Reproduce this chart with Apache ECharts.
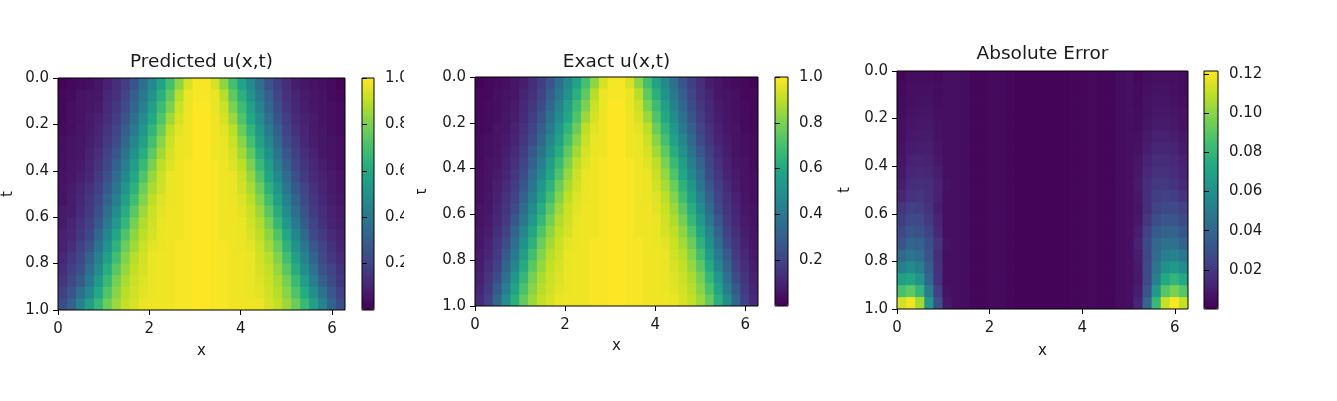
<!DOCTYPE html>
<html><head><meta charset="utf-8">
<script src="https://cdn.jsdelivr.net/npm/echarts@6/dist/echarts.min.js"></script>
<style>html,body{margin:0;padding:0;background:#fff}#c{width:1337px;height:401px}</style>
</head><body><div id="c"></div>
<script>
// x cell centres (0..2π, 32 cells) and t cell centres (0..1, 20 cells)
const xCategories = ['0.10','0.29','0.49','0.69','0.88','1.08','1.28','1.47','1.67','1.87','2.06','2.26','2.45','2.65','2.85','3.04','3.24','3.44','3.63','3.83','4.02','4.22','4.42','4.61','4.81','5.01','5.20','5.40','5.60','5.79','5.99','6.19'];
const tCategories = ['0.025','0.075','0.125','0.175','0.225','0.275','0.325','0.375','0.425','0.475','0.525','0.575','0.625','0.675','0.725','0.775','0.825','0.875','0.925','0.975'];
const xTicks = [0, 2, 4, 6];
const tTicks = [0, 0.2, 0.4, 0.6, 0.8, 1.0];
const uBarTicks = [0.2, 0.4, 0.6, 0.8, 1.0];
const errBarTicks = [0.02, 0.04, 0.06, 0.08, 0.10, 0.12];
const panelTitles = ['Predicted u(x,t)', 'Exact u(x,t)', 'Absolute Error'];

const predictedRows = [
[0.01,0.02,0.03,0.04,0.06,0.09,0.13,0.18,0.26,0.36,0.47,0.58,0.70,0.83,0.94,0.99,0.99,0.94,0.83,0.70,0.58,0.47,0.36,0.26,0.18,0.13,0.08,0.06,0.05,0.04,0.03,0.01],
[0.02,0.03,0.05,0.06,0.06,0.11,0.14,0.20,0.30,0.40,0.51,0.63,0.75,0.89,0.97,0.99,0.99,0.97,0.89,0.75,0.63,0.51,0.40,0.30,0.20,0.14,0.10,0.07,0.06,0.05,0.03,0.02],
[0.02,0.04,0.05,0.06,0.07,0.12,0.16,0.23,0.33,0.44,0.56,0.68,0.80,0.92,0.97,1.00,1.00,0.97,0.92,0.80,0.68,0.56,0.44,0.33,0.23,0.16,0.11,0.08,0.06,0.05,0.04,0.03],
[0.02,0.04,0.05,0.07,0.09,0.13,0.18,0.26,0.37,0.48,0.60,0.72,0.85,0.94,0.98,1.00,1.00,0.98,0.94,0.85,0.72,0.60,0.48,0.37,0.26,0.18,0.12,0.09,0.07,0.05,0.04,0.03],
[0.03,0.04,0.06,0.07,0.10,0.15,0.20,0.30,0.41,0.53,0.65,0.77,0.90,0.96,0.98,1.00,1.00,0.98,0.96,0.90,0.77,0.65,0.53,0.41,0.30,0.20,0.14,0.10,0.07,0.06,0.04,0.03],
[0.04,0.05,0.06,0.08,0.11,0.17,0.23,0.34,0.46,0.57,0.70,0.82,0.92,0.97,0.98,1.00,1.00,0.98,0.97,0.92,0.82,0.70,0.57,0.46,0.34,0.23,0.17,0.11,0.08,0.06,0.05,0.04],
[0.04,0.05,0.06,0.09,0.13,0.19,0.27,0.38,0.50,0.62,0.75,0.86,0.94,0.97,0.98,1.00,1.00,0.98,0.97,0.94,0.86,0.75,0.62,0.50,0.38,0.27,0.19,0.13,0.09,0.06,0.05,0.04],
[0.04,0.06,0.07,0.10,0.15,0.21,0.31,0.42,0.55,0.67,0.80,0.90,0.95,0.98,0.99,1.00,1.00,0.99,0.98,0.95,0.90,0.80,0.67,0.55,0.42,0.31,0.21,0.15,0.11,0.08,0.06,0.04],
[0.05,0.06,0.08,0.11,0.17,0.24,0.35,0.47,0.59,0.72,0.84,0.92,0.97,0.98,0.99,1.00,1.00,0.99,0.98,0.97,0.92,0.84,0.72,0.59,0.47,0.35,0.24,0.17,0.12,0.09,0.07,0.05],
[0.05,0.07,0.10,0.14,0.19,0.28,0.39,0.52,0.64,0.77,0.87,0.93,0.97,0.98,0.99,1.00,1.00,0.99,0.98,0.97,0.93,0.87,0.77,0.64,0.52,0.39,0.28,0.20,0.14,0.10,0.07,0.05],
[0.05,0.08,0.11,0.16,0.21,0.32,0.43,0.56,0.69,0.81,0.90,0.95,0.97,0.98,0.99,1.00,1.00,0.99,0.98,0.97,0.95,0.90,0.81,0.69,0.56,0.43,0.32,0.22,0.16,0.11,0.08,0.06],
[0.07,0.08,0.12,0.17,0.24,0.36,0.48,0.62,0.74,0.85,0.92,0.96,0.98,0.98,0.99,1.00,1.00,0.99,0.98,0.98,0.96,0.92,0.85,0.74,0.62,0.48,0.36,0.25,0.17,0.13,0.09,0.07],
[0.07,0.10,0.14,0.19,0.28,0.41,0.53,0.66,0.79,0.88,0.93,0.97,0.98,0.98,0.99,1.00,1.00,0.99,0.98,0.98,0.97,0.93,0.88,0.79,0.66,0.53,0.41,0.29,0.20,0.14,0.10,0.08],
[0.09,0.11,0.16,0.21,0.33,0.46,0.59,0.72,0.83,0.90,0.94,0.97,0.98,0.98,0.99,1.00,1.00,0.99,0.98,0.98,0.97,0.94,0.90,0.83,0.72,0.59,0.46,0.34,0.22,0.17,0.12,0.09],
[0.09,0.13,0.19,0.26,0.38,0.51,0.64,0.77,0.86,0.92,0.96,0.97,0.98,0.99,0.99,1.00,1.00,0.99,0.99,0.98,0.97,0.96,0.92,0.86,0.77,0.64,0.51,0.39,0.27,0.20,0.14,0.10],
[0.11,0.16,0.21,0.31,0.43,0.56,0.69,0.81,0.89,0.93,0.97,0.98,0.98,0.99,0.99,1.00,1.00,0.99,0.99,0.98,0.98,0.97,0.93,0.89,0.81,0.69,0.56,0.44,0.32,0.22,0.16,0.12],
[0.13,0.19,0.24,0.36,0.48,0.62,0.74,0.84,0.91,0.94,0.97,0.98,0.98,0.99,0.99,1.00,1.00,0.99,0.99,0.98,0.98,0.97,0.94,0.91,0.84,0.74,0.62,0.49,0.37,0.25,0.20,0.14],
[0.16,0.22,0.29,0.41,0.54,0.67,0.79,0.87,0.92,0.95,0.97,0.98,0.98,0.99,0.99,1.00,1.00,0.99,0.99,0.98,0.98,0.97,0.95,0.92,0.87,0.79,0.67,0.55,0.42,0.30,0.23,0.16],
[0.19,0.26,0.36,0.47,0.60,0.72,0.82,0.89,0.93,0.96,0.97,0.98,0.98,0.99,0.99,1.00,1.00,0.99,0.99,0.98,0.98,0.97,0.96,0.93,0.89,0.82,0.72,0.61,0.49,0.37,0.27,0.19],
[0.23,0.31,0.44,0.55,0.66,0.77,0.85,0.91,0.94,0.97,0.98,0.98,0.98,0.99,0.99,1.00,1.00,0.99,0.99,0.98,0.98,0.98,0.97,0.94,0.91,0.85,0.77,0.67,0.56,0.44,0.31,0.23]
];

const exactRows = [
[0.01,0.02,0.03,0.04,0.06,0.08,0.13,0.18,0.26,0.36,0.47,0.58,0.70,0.83,0.94,0.99,0.99,0.94,0.83,0.70,0.58,0.47,0.36,0.26,0.18,0.13,0.08,0.06,0.04,0.03,0.02,0.01],
[0.02,0.02,0.04,0.05,0.06,0.10,0.14,0.20,0.30,0.40,0.51,0.63,0.75,0.89,0.97,0.99,0.99,0.97,0.89,0.75,0.63,0.51,0.40,0.30,0.20,0.14,0.10,0.06,0.05,0.04,0.02,0.02],
[0.02,0.03,0.04,0.05,0.07,0.11,0.16,0.23,0.33,0.44,0.56,0.68,0.80,0.92,0.97,1.00,1.00,0.97,0.92,0.80,0.68,0.56,0.44,0.33,0.23,0.16,0.11,0.07,0.05,0.04,0.03,0.02],
[0.02,0.03,0.04,0.06,0.08,0.12,0.18,0.26,0.37,0.48,0.60,0.72,0.85,0.94,0.98,1.00,1.00,0.98,0.94,0.85,0.72,0.60,0.48,0.37,0.26,0.18,0.12,0.08,0.06,0.04,0.03,0.02],
[0.02,0.03,0.05,0.06,0.09,0.14,0.20,0.30,0.41,0.53,0.65,0.77,0.90,0.96,0.98,1.00,1.00,0.98,0.96,0.90,0.77,0.65,0.53,0.41,0.30,0.20,0.14,0.09,0.06,0.05,0.03,0.02],
[0.03,0.04,0.05,0.07,0.10,0.16,0.23,0.34,0.46,0.57,0.70,0.82,0.92,0.97,0.98,1.00,1.00,0.98,0.97,0.92,0.82,0.70,0.57,0.46,0.34,0.23,0.16,0.10,0.07,0.05,0.04,0.03],
[0.03,0.04,0.05,0.08,0.12,0.18,0.27,0.38,0.50,0.62,0.75,0.86,0.94,0.97,0.98,1.00,1.00,0.98,0.97,0.94,0.86,0.75,0.62,0.50,0.38,0.27,0.18,0.12,0.08,0.05,0.04,0.03],
[0.03,0.05,0.06,0.09,0.14,0.20,0.31,0.42,0.55,0.67,0.80,0.90,0.95,0.98,0.99,1.00,1.00,0.99,0.98,0.95,0.90,0.80,0.67,0.55,0.42,0.31,0.20,0.14,0.09,0.06,0.05,0.03],
[0.04,0.05,0.07,0.10,0.16,0.23,0.35,0.47,0.59,0.72,0.84,0.92,0.97,0.98,0.99,1.00,1.00,0.99,0.98,0.97,0.92,0.84,0.72,0.59,0.47,0.35,0.23,0.16,0.10,0.07,0.05,0.04],
[0.04,0.05,0.08,0.12,0.18,0.27,0.39,0.52,0.64,0.77,0.87,0.93,0.97,0.98,0.99,1.00,1.00,0.99,0.98,0.97,0.93,0.87,0.77,0.64,0.52,0.39,0.27,0.18,0.12,0.08,0.05,0.04],
[0.04,0.06,0.09,0.14,0.20,0.31,0.43,0.56,0.69,0.81,0.90,0.95,0.97,0.98,0.99,1.00,1.00,0.99,0.98,0.97,0.95,0.90,0.81,0.69,0.56,0.43,0.31,0.20,0.14,0.09,0.06,0.04],
[0.05,0.06,0.10,0.15,0.23,0.35,0.48,0.62,0.74,0.85,0.92,0.96,0.98,0.98,0.99,1.00,1.00,0.99,0.98,0.98,0.96,0.92,0.85,0.74,0.62,0.48,0.35,0.23,0.15,0.10,0.06,0.05],
[0.05,0.07,0.11,0.17,0.27,0.40,0.53,0.66,0.79,0.88,0.93,0.97,0.98,0.98,0.99,1.00,1.00,0.99,0.98,0.98,0.97,0.93,0.88,0.79,0.66,0.53,0.40,0.27,0.17,0.11,0.07,0.05],
[0.06,0.08,0.13,0.19,0.32,0.45,0.59,0.72,0.83,0.90,0.94,0.97,0.98,0.98,0.99,1.00,1.00,0.99,0.98,0.98,0.97,0.94,0.90,0.83,0.72,0.59,0.45,0.32,0.19,0.13,0.08,0.06],
[0.06,0.09,0.15,0.23,0.36,0.50,0.64,0.77,0.86,0.92,0.96,0.97,0.98,0.99,0.99,1.00,1.00,0.99,0.99,0.98,0.97,0.96,0.92,0.86,0.77,0.64,0.50,0.36,0.23,0.15,0.09,0.06],
[0.07,0.11,0.17,0.28,0.41,0.55,0.69,0.81,0.89,0.93,0.97,0.98,0.98,0.99,0.99,1.00,1.00,0.99,0.99,0.98,0.98,0.97,0.93,0.89,0.81,0.69,0.55,0.41,0.28,0.17,0.11,0.07],
[0.08,0.13,0.19,0.32,0.46,0.61,0.74,0.84,0.91,0.94,0.97,0.98,0.98,0.99,0.99,1.00,1.00,0.99,0.99,0.98,0.98,0.97,0.94,0.91,0.84,0.74,0.61,0.46,0.32,0.19,0.13,0.08],
[0.09,0.15,0.23,0.37,0.52,0.66,0.79,0.87,0.92,0.95,0.97,0.98,0.98,0.99,0.99,1.00,1.00,0.99,0.99,0.98,0.98,0.97,0.95,0.92,0.87,0.79,0.66,0.52,0.37,0.23,0.15,0.09],
[0.10,0.17,0.28,0.42,0.58,0.71,0.82,0.89,0.93,0.96,0.97,0.98,0.98,0.99,0.99,1.00,1.00,0.99,0.99,0.98,0.98,0.97,0.96,0.93,0.89,0.82,0.71,0.58,0.42,0.28,0.17,0.10],
[0.12,0.19,0.33,0.48,0.63,0.76,0.85,0.91,0.94,0.97,0.98,0.98,0.98,0.99,0.99,1.00,1.00,0.99,0.99,0.98,0.98,0.98,0.97,0.94,0.91,0.85,0.76,0.63,0.48,0.33,0.19,0.12]
];

const errorRows = [
[0.002,0.004,0.004,0.004,0.003,0.005,0.005,0.004,0.002,0.002,0.003,0.003,0.002,0.001,0.001,0.001,0.001,0.001,0.001,0.002,0.002,0.003,0.002,0.002,0.004,0.005,0.002,0.004,0.005,0.005,0.005,0.004],
[0.003,0.005,0.005,0.005,0.004,0.005,0.005,0.004,0.002,0.002,0.003,0.003,0.002,0.001,0.001,0.001,0.001,0.001,0.001,0.002,0.002,0.003,0.002,0.002,0.004,0.005,0.003,0.005,0.006,0.006,0.005,0.004],
[0.004,0.005,0.006,0.006,0.004,0.005,0.005,0.004,0.002,0.002,0.003,0.003,0.002,0.001,0.001,0.001,0.001,0.001,0.001,0.002,0.002,0.003,0.002,0.002,0.004,0.005,0.003,0.006,0.007,0.007,0.006,0.005],
[0.004,0.006,0.007,0.007,0.005,0.005,0.005,0.004,0.002,0.002,0.003,0.003,0.002,0.001,0.001,0.001,0.001,0.001,0.001,0.002,0.002,0.003,0.002,0.002,0.004,0.005,0.004,0.006,0.008,0.008,0.007,0.006],
[0.005,0.007,0.008,0.008,0.006,0.005,0.005,0.004,0.002,0.002,0.003,0.003,0.002,0.001,0.001,0.001,0.001,0.001,0.001,0.002,0.002,0.003,0.002,0.002,0.004,0.005,0.004,0.007,0.009,0.009,0.008,0.006],
[0.005,0.008,0.009,0.009,0.006,0.005,0.005,0.004,0.002,0.002,0.003,0.003,0.002,0.001,0.001,0.001,0.001,0.001,0.001,0.002,0.002,0.003,0.002,0.002,0.004,0.005,0.005,0.009,0.011,0.011,0.010,0.008],
[0.006,0.009,0.010,0.010,0.007,0.005,0.005,0.004,0.002,0.002,0.003,0.003,0.002,0.001,0.001,0.001,0.001,0.001,0.001,0.002,0.002,0.003,0.002,0.002,0.004,0.005,0.006,0.010,0.013,0.013,0.012,0.009],
[0.007,0.011,0.012,0.011,0.008,0.005,0.005,0.004,0.002,0.002,0.003,0.003,0.002,0.001,0.001,0.001,0.001,0.001,0.001,0.002,0.002,0.003,0.002,0.002,0.004,0.005,0.007,0.012,0.015,0.015,0.014,0.011],
[0.008,0.013,0.014,0.013,0.010,0.005,0.005,0.004,0.002,0.002,0.003,0.003,0.002,0.001,0.001,0.001,0.001,0.001,0.001,0.002,0.002,0.003,0.002,0.002,0.004,0.005,0.008,0.014,0.017,0.017,0.015,0.012],
[0.010,0.015,0.016,0.015,0.011,0.006,0.005,0.004,0.002,0.002,0.003,0.003,0.002,0.001,0.001,0.001,0.001,0.001,0.001,0.002,0.002,0.003,0.002,0.002,0.004,0.005,0.009,0.016,0.020,0.020,0.018,0.014],
[0.013,0.018,0.019,0.016,0.011,0.005,0.005,0.004,0.002,0.002,0.003,0.003,0.002,0.001,0.001,0.001,0.001,0.001,0.001,0.002,0.002,0.003,0.002,0.002,0.004,0.005,0.008,0.016,0.022,0.023,0.022,0.018],
[0.018,0.023,0.022,0.017,0.010,0.005,0.005,0.004,0.002,0.002,0.003,0.003,0.002,0.001,0.001,0.001,0.001,0.001,0.001,0.002,0.002,0.003,0.002,0.002,0.004,0.005,0.007,0.016,0.024,0.027,0.027,0.023],
[0.022,0.027,0.026,0.020,0.012,0.005,0.005,0.004,0.002,0.002,0.003,0.003,0.002,0.001,0.001,0.001,0.001,0.001,0.001,0.002,0.002,0.003,0.002,0.002,0.004,0.005,0.008,0.019,0.029,0.032,0.032,0.027],
[0.026,0.032,0.030,0.024,0.014,0.005,0.005,0.004,0.002,0.002,0.003,0.003,0.002,0.001,0.001,0.001,0.001,0.001,0.001,0.002,0.002,0.003,0.002,0.002,0.004,0.005,0.010,0.023,0.034,0.038,0.038,0.032],
[0.031,0.039,0.037,0.029,0.018,0.006,0.005,0.004,0.002,0.002,0.003,0.003,0.002,0.001,0.001,0.001,0.001,0.001,0.001,0.002,0.002,0.003,0.002,0.002,0.004,0.005,0.011,0.027,0.041,0.045,0.045,0.038],
[0.041,0.047,0.043,0.031,0.016,0.005,0.005,0.004,0.002,0.002,0.003,0.003,0.002,0.001,0.001,0.001,0.001,0.001,0.001,0.002,0.002,0.003,0.002,0.002,0.004,0.005,0.010,0.025,0.042,0.052,0.054,0.048],
[0.052,0.058,0.052,0.035,0.017,0.005,0.005,0.004,0.002,0.002,0.003,0.003,0.002,0.001,0.001,0.001,0.001,0.001,0.001,0.002,0.002,0.003,0.002,0.002,0.004,0.005,0.009,0.026,0.047,0.061,0.065,0.059],
[0.068,0.072,0.063,0.040,0.018,0.005,0.005,0.004,0.002,0.002,0.003,0.003,0.002,0.001,0.001,0.001,0.001,0.001,0.001,0.002,0.002,0.003,0.002,0.002,0.004,0.005,0.008,0.026,0.053,0.073,0.079,0.073],
[0.086,0.091,0.080,0.050,0.023,0.006,0.005,0.004,0.002,0.002,0.003,0.003,0.002,0.001,0.001,0.001,0.001,0.001,0.001,0.002,0.002,0.003,0.002,0.002,0.004,0.005,0.010,0.032,0.065,0.089,0.097,0.089],
[0.113,0.119,0.105,0.065,0.030,0.008,0.005,0.004,0.002,0.002,0.003,0.003,0.002,0.001,0.001,0.001,0.001,0.001,0.001,0.002,0.002,0.003,0.002,0.002,0.004,0.005,0.012,0.040,0.081,0.111,0.121,0.111]
];

const viridis = ['#440154','#482475','#414487','#355f8d','#2a788e','#21918c','#22a884','#44bf70','#7ad151','#bddf26','#fde725'];
const FONT = 'DejaVu Sans';
const TXT = '#1a1a1a';

const panels = [
  {rows: predictedRows, min: 0, max: 1.0, barTicks: uBarTicks, dec: 1,
   grid: {left: 58, top: 78, width: 287, height: 232}, bar: {left: 362, width: 12},
   titleY: 62, tGap: 42, xGap: 34},
  {rows: exactRows, min: 0, max: 1.0, barTicks: uBarTicks, dec: 1,
   grid: {left: 475, top: 77, width: 283, height: 229}, bar: {left: 775, width: 13},
   titleY: 62, tGap: 45, xGap: 33},
  {rows: errorRows, min: 0, max: 0.1215, barTicks: errBarTicks, dec: 2,
   grid: {left: 897, top: 71, width: 291, height: 238}, bar: {left: 1204, width: 14},
   titleY: 54.5, tGap: 44, xGap: 35}
];

function cells(rows) {
  const out = [];
  rows.forEach((row, j) => row.forEach((v, i) => out.push([i, j, v])));
  return out;
}

// each cell is drawn through the category scales; 1px overlap hides anti-aliasing seams
function renderCell(params, api) {
  const c = api.coord([api.value(0), api.value(1)]);
  const s = api.size([1, 1]);
  const w = Math.abs(s[0]), h = Math.abs(s[1]);
  return {type: 'rect', shape: {x: c[0] - w / 2, y: c[1] - h / 2, width: w + 1, height: h + 1},
          style: {fill: api.visual('color')}};
}

const grid = [], xAxis = [], yAxis = [], series = [], visualMap = [], graphic = [];
const lbl = {color: TXT, fontSize: 15, fontFamily: FONT};
const tickStyle = {color: '#000', width: 1};

panels.forEach((p, k) => {
  grid.push(Object.assign({show: true, borderColor: '#000', borderWidth: 1, backgroundColor: 'transparent', z: 10, outerBoundsMode: 'none', containLabel: false}, p.grid));
  grid.push({show: true, borderColor: '#000', borderWidth: 1, backgroundColor: 'transparent', z: 10, outerBoundsMode: 'none', containLabel: false,
             left: p.bar.left, top: p.grid.top, width: p.bar.width, height: p.grid.height});
  const gMain = 2 * k, gBar = 2 * k + 1;
  xAxis.push({type: 'category', gridIndex: gMain, data: xCategories, show: false});
  xAxis.push({type: 'value', gridIndex: gMain, min: 0, max: 2 * Math.PI, position: 'bottom', z: 10,
    axisLine: {show: false}, splitLine: {show: false},
    axisTick: {show: true, length: 5, lineStyle: tickStyle, customValues: xTicks},
    axisLabel: Object.assign({margin: 12, customValues: xTicks, formatter: v => String(Math.round(v))}, lbl),
    name: 'x', nameLocation: 'middle', nameGap: p.xGap, nameTextStyle: {color: TXT, fontSize: 15, fontFamily: FONT}});
  xAxis.push({type: 'value', gridIndex: gBar, show: false, min: 0, max: 1});
  yAxis.push({type: 'category', gridIndex: gMain, data: tCategories, inverse: true, show: false});
  yAxis.push({type: 'value', gridIndex: gMain, min: 0, max: 1, inverse: true, position: 'left', z: 10,
    axisLine: {show: false}, splitLine: {show: false},
    axisTick: {show: true, length: 5, lineStyle: tickStyle, customValues: tTicks},
    axisLabel: Object.assign({margin: 9, customValues: tTicks, formatter: v => v.toFixed(1)}, lbl),
    name: 't', nameLocation: 'middle', nameGap: p.tGap, nameTextStyle: {color: TXT, fontSize: 15, fontFamily: FONT}});
  yAxis.push({type: 'value', gridIndex: gBar, min: p.min, max: p.max, position: 'right', z: 10,
    axisLine: {show: false}, splitLine: {show: false},
    axisTick: {show: true, length: 5, lineStyle: tickStyle, customValues: p.barTicks},
    axisLabel: Object.assign({margin: 11, customValues: p.barTicks, formatter: v => v.toFixed(p.dec)}, lbl)});
  series.push({type: 'custom', xAxisIndex: 3 * k, yAxisIndex: 3 * k, data: cells(p.rows),
    encode: {x: 0, y: 1}, clip: true, silent: true, animation: false, progressive: 0,
    renderItem: renderCell});
  visualMap.push({type: 'continuous', seriesIndex: k, dimension: 2, min: p.min, max: p.max,
    inRange: {color: viridis}, calculable: false, hoverLink: false, orient: 'vertical', padding: 0,
    left: p.bar.left, top: p.grid.top, itemWidth: p.bar.width, itemHeight: p.grid.height});
  graphic.push({type: 'text', x: p.grid.left + p.grid.width / 2, y: p.titleY, z: 20,
    style: {text: panelTitles[k], fill: TXT, fontSize: 18.5, fontFamily: FONT, align: 'center', verticalAlign: 'middle'}});
});
// strip that cuts off the first colour bar's labels, as in the reference
graphic.push({type: 'rect', shape: {x: 404, y: 60, width: 13, height: 265}, style: {fill: '#fff'}, z: 100});

const chart = echarts.init(document.getElementById('c'), null, {renderer: 'canvas'});
chart.setOption({
  animation: false,
  backgroundColor: '#fff',
  textStyle: {fontFamily: FONT},
  grid, xAxis, yAxis, series, visualMap, graphic
});
</script></body></html>
